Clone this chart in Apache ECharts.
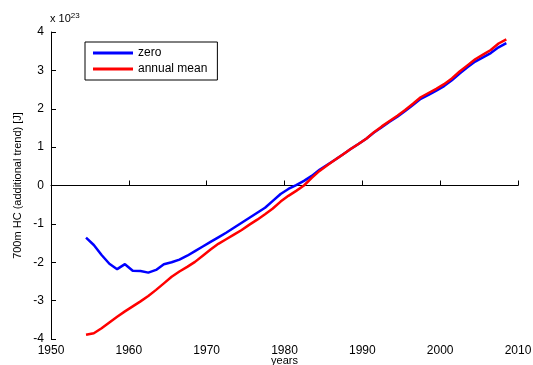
<!DOCTYPE html>
<html>
<head>
<meta charset="utf-8">
<script src="https://cdn.jsdelivr.net/npm/echarts@6/dist/echarts.min.js"></script>
<style>html,body{margin:0;padding:0;background:#fff}#c{width:533px;height:365px}</style>
</head>
<body>
<div id="c"></div>
<script>
var years = [1954.5,1955.5,1956.5,1957.5,1958.5,1959.5,1960.5,1961.5,1962.5,1963.5,1964.5,1965.5,1966.5,1967.5,1968.5,1969.5,1970.5,1971.5,1972.5,1973.5,1974.5,1975.5,1976.5,1977.5,1978.5,1979.5,1980.5,1981.5,1982.5,1983.5,1984.5,1985.5,1986.5,1987.5,1988.5,1989.5,1990.5,1991.5,1992.5,1993.5,1994.5,1995.5,1996.5,1997.5,1998.5,1999.5,2000.5,2001.5,2002.5,2003.5,2004.5,2005.5,2006.5,2007.5,2008.5];
var zeroVals = [-1.36,-1.55,-1.81,-2.04,-2.18,-2.05,-2.22,-2.23,-2.27,-2.20,-2.05,-2.00,-1.93,-1.83,-1.71,-1.59,-1.47,-1.35,-1.23,-1.10,-0.97,-0.84,-0.71,-0.58,-0.40,-0.22,-0.09,0.01,0.12,0.25,0.41,0.54,0.67,0.81,0.95,1.08,1.22,1.38,1.52,1.66,1.79,1.94,2.10,2.26,2.36,2.47,2.59,2.74,2.92,3.08,3.23,3.34,3.45,3.60,3.71];
var annualVals = [-3.89,-3.85,-3.72,-3.57,-3.42,-3.28,-3.15,-3.02,-2.88,-2.72,-2.55,-2.38,-2.24,-2.12,-1.99,-1.83,-1.67,-1.52,-1.40,-1.28,-1.16,-1.02,-0.89,-0.75,-0.60,-0.42,-0.27,-0.14,0.00,0.20,0.38,0.53,0.67,0.81,0.95,1.08,1.22,1.39,1.54,1.68,1.82,1.97,2.13,2.30,2.41,2.52,2.64,2.79,2.97,3.13,3.29,3.41,3.53,3.70,3.81];
var seriesNames = ['zero','annual mean'];
var xTicks = {min:1950, max:2010, interval:10};
var yTicks = {min:-4, max:4, interval:1};

function pairs(xs, ys){ return xs.map(function(x,i){ return [x, ys[i]]; }); }
var FONT = '"Liberation Sans", Arial, sans-serif';
var chart = echarts.init(document.getElementById('c'), null, {renderer:'canvas'});
chart.setOption({
  animation:false,
  backgroundColor:'#fff',
  grid:{left:51, right:15, top:32, bottom:26, containLabel:false, outerBoundsMode:'none'},
  legend:{
    data:seriesNames, orient:'vertical', left:85, top:42,
    backgroundColor:'#fff', borderColor:'#000', borderWidth:1, borderRadius:0,
    padding:[4,10,4,8], itemGap:2, itemWidth:40, itemHeight:3, icon:'rect',
    textStyle:{fontFamily:FONT, fontSize:12, color:'#000', lineHeight:14}
  },
  xAxis:{
    type:'value', min:xTicks.min, max:xTicks.max, interval:xTicks.interval,
    name:'years', nameLocation:'middle', nameGap:16, nameMoveOverlap:false,
    nameTextStyle:{fontFamily:FONT, fontSize:11, color:'#000', verticalAlign:'top'},
    axisLine:{show:true, lineStyle:{color:'#000', width:1}},
    axisTick:{show:true, inside:true, length:5, lineStyle:{color:'#000'}},
    axisLabel:{fontFamily:FONT, fontSize:12, color:'#000', margin:6, formatter:function(v){return String(v);}},
    splitLine:{show:false}
  },
  yAxis:{
    type:'value', min:yTicks.min, max:yTicks.max, interval:yTicks.interval,
    name:'700m HC (additional trend) [J]', nameLocation:'middle', nameGap:28, nameMoveOverlap:false,
    nameTextStyle:{fontFamily:FONT, fontSize:11, color:'#000'},
    axisLine:{show:true, lineStyle:{color:'#000', width:1}},
    axisTick:{show:true, inside:true, length:5, lineStyle:{color:'#000'}},
    axisLabel:{fontFamily:FONT, fontSize:12, color:'#000', margin:7},
    splitLine:{show:false}
  },
  graphic:[{
    type:'text', left:50, top:12,
    style:{
      text:'x 10{s|23}', fontFamily:FONT, fontSize:11, fill:'#000',
      rich:{s:{fontSize:8, verticalAlign:'top', padding:[0,0,6,0], fontFamily:FONT}}
    }
  }],
  series:[
    {name:seriesNames[0], type:'line', data:pairs(years, zeroVals), symbol:'none', showSymbol:false,
     lineStyle:{color:'#0000ff', width:2.5}, itemStyle:{color:'#0000ff'}},
    {name:seriesNames[1], type:'line', data:pairs(years, annualVals), symbol:'none', showSymbol:false,
     lineStyle:{color:'#ff0000', width:2.5}, itemStyle:{color:'#ff0000'}}
  ]
});
</script>
</body>
</html>
